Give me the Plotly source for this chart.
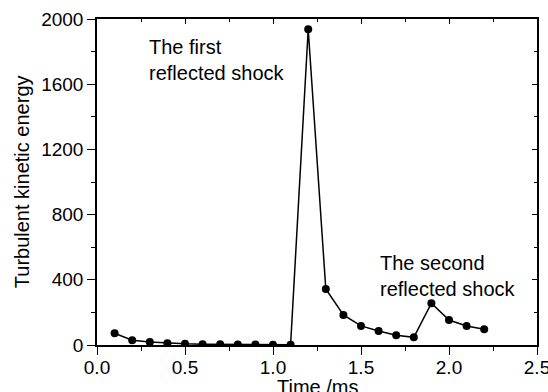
import plotly.graph_objects as go

time_ms = [0.1, 0.2, 0.3, 0.4, 0.5, 0.6, 0.7, 0.8, 0.9, 1.0, 1.1, 1.2, 1.3, 1.4, 1.5, 1.6, 1.7, 1.8, 1.9, 2.0, 2.1, 2.2]
tke = [72, 29, 18, 11, 7, 5, 4, 3, 3, 2, 2, 1937, 344, 184, 117, 86, 60, 47, 256, 153, 117, 96]

x_ticks = [0.0, 0.5, 1.0, 1.5, 2.0, 2.5]
x_tick_labels = ["0.0", "0.5", "1.0", "1.5", "2.0", "2.5"]
y_ticks = [0, 400, 800, 1200, 1600, 2000]
y_tick_labels = ["0", "400", "800", "1200", "1600", "2000"]

x_title = "Time /ms"
y_title = "Turbulent kinetic energy"
label_first = "The first<br>reflected shock"
label_second = "The second<br>reflected shock"

font = "Liberation Sans, Arial, sans-serif"

fig = go.Figure()
fig.add_trace(go.Scatter(
    x=time_ms, y=tke, mode="lines+markers",
    line=dict(color="black", width=1.5),
    marker=dict(color="black", size=8),
    showlegend=False,
))
# mirrored axes (top/right) with inward ticks
fig.add_trace(go.Scatter(x=[None], y=[None], xaxis="x2", yaxis="y2", showlegend=False))

fig.update_layout(
    width=548, height=392,
    margin=dict(l=97, r=11, t=19, b=47),
    paper_bgcolor="white", plot_bgcolor="white",
    font=dict(family=font, size=19, color="black"),
    xaxis=dict(
        range=[0, 2.5], tickvals=x_ticks, ticktext=x_tick_labels,
        ticks="outside", ticklen=8, tickwidth=1, tickcolor="black",
        minor=dict(dtick=0.25, ticks="outside", ticklen=4, tickcolor="black"),
        showline=True, linecolor="black", linewidth=1.5, showgrid=False, zeroline=False,
        tickfont=dict(size=19), automargin=False, ticklabeloverflow="allow",
        ticklabelstandoff=-4,
    ),
    yaxis=dict(
        range=[0, 2000], tickvals=y_ticks, ticktext=y_tick_labels,
        ticks="outside", ticklen=8, tickwidth=1, tickcolor="black",
        minor=dict(dtick=200, ticks="outside", ticklen=4, tickcolor="black"),
        showline=True, linecolor="black", linewidth=1.5, showgrid=False, zeroline=False,
        tickfont=dict(size=19), automargin=False, ticklabeloverflow="allow",
    ),
    xaxis2=dict(
        overlaying="x", side="top", range=[0, 2.5], tickvals=x_ticks, showticklabels=False,
        ticks="inside", ticklen=5, tickcolor="black",
        minor=dict(dtick=0.25, ticks="inside", ticklen=3, tickcolor="black"),
        showline=True, linecolor="black", linewidth=1.5, showgrid=False, zeroline=False,
        automargin=False,
    ),
    yaxis2=dict(
        overlaying="y", side="right", range=[0, 2000], tickvals=y_ticks, showticklabels=False,
        ticks="inside", ticklen=5, tickcolor="black",
        minor=dict(dtick=200, ticks="inside", ticklen=3, tickcolor="black"),
        showline=True, linecolor="black", linewidth=1.5, showgrid=False, zeroline=False,
        automargin=False,
    ),
    annotations=[
        dict(x=0.285, y=1910, xref="x", yref="y", text=label_first,
             showarrow=False, xanchor="left", yanchor="top", align="left",
             font=dict(size=20, family=font)),
        dict(x=1.595, y=585, xref="x", yref="y", text=label_second,
             showarrow=False, xanchor="left", yanchor="top", align="left",
             font=dict(size=20, family=font)),
        dict(x=0.5, y=-0.128, xref="paper", yref="paper", text=x_title,
             showarrow=False, xanchor="center", yanchor="middle",
             font=dict(size=20, family=font)),
        dict(x=-0.17, y=0.5, xref="paper", yref="paper", text=y_title, textangle=-90,
             showarrow=False, xanchor="center", yanchor="middle",
             font=dict(size=20, family=font)),
    ],
)

fig.write_html("out.html")
